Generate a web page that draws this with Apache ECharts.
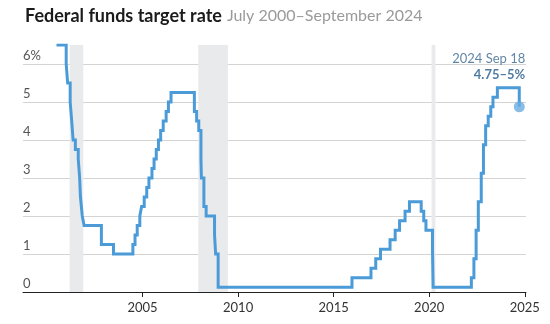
<!DOCTYPE html>
<html>
<head>
<meta charset="utf-8">
<script src="https://cdn.jsdelivr.net/npm/echarts@6/dist/echarts.min.js"></script>
<style>
html,body{margin:0;padding:0;background:#fff;}
#c{width:550px;height:324px;}
</style>
</head>
<body>
<div id="c"></div>
<script>
// Federal funds target rate (midpoint of target range), date of change
const rateDates = [
  '2000-07-01','2001-01-03','2001-01-31','2001-03-20','2001-04-18','2001-05-15','2001-06-27',
  '2001-08-21','2001-09-17','2001-10-02','2001-11-06','2001-12-11','2002-11-06','2003-06-25',
  '2004-06-30','2004-08-10','2004-09-21','2004-11-10','2004-12-14','2005-02-02','2005-03-22',
  '2005-05-03','2005-06-30','2005-08-09','2005-09-20','2005-11-01','2005-12-13','2006-01-31',
  '2006-03-28','2006-05-10','2006-06-29','2007-09-18','2007-10-31','2007-12-11','2008-01-22',
  '2008-01-30','2008-03-18','2008-04-30','2008-10-08','2008-10-29','2008-12-16','2015-12-17',
  '2016-12-15','2017-03-16','2017-06-15','2017-12-14','2018-03-22','2018-06-14','2018-09-27',
  '2018-12-20','2019-08-01','2019-09-19','2019-10-31','2020-03-04','2020-03-16','2022-03-17',
  '2022-05-05','2022-06-16','2022-07-28','2022-09-22','2022-11-03','2022-12-15','2023-02-02',
  '2023-03-23','2023-05-04','2023-07-27','2024-09-18'
];
const rateValues = [
  6.5,6.0,5.5,5.0,4.5,4.0,3.75,
  3.5,3.0,2.5,2.0,1.75,1.25,1.0,
  1.25,1.5,1.75,2.0,2.25,2.5,2.75,
  3.0,3.25,3.5,3.75,4.0,4.25,4.5,
  4.75,5.0,5.25,4.75,4.5,4.25,3.5,
  3.0,2.25,2.0,1.5,1.0,0.125,0.375,
  0.625,0.875,1.125,1.375,1.625,1.875,2.125,
  2.375,2.125,1.875,1.625,1.125,0.125,0.375,
  0.875,1.625,2.375,3.125,3.875,4.375,4.625,
  4.875,5.125,5.375,4.875
];
const recessionStarts = ['2001-03-10','2007-12-01','2020-02-15'];
const recessionEnds   = ['2001-11-25','2009-06-20','2020-04-30'];
const xTickYears = [2005, 2010, 2015, 2020, 2025];
const yTickValues = [0, 1, 2, 3, 4, 5, 6];
const titleText = 'Federal funds target rate';
const subtitleText = 'July 2000–September 2024';
const lastLabelDate = '2024 Sep 18';
const lastLabelValue = '4.75–5%';

const FONT = 'Lato, "Open Sans", sans-serif';
// convert 'YYYY-MM-DD' to fractional year for a numeric axis
function toYear(s) {
  const p = s.split('-').map(Number);
  const t = Date.UTC(p[0], p[1] - 1, p[2]);
  const a = Date.UTC(p[0], 0, 1), b = Date.UTC(p[0] + 1, 0, 1);
  return p[0] + (t - a) / (b - a);
}
const lineData = rateDates.map((d, i) => [toYear(d), rateValues[i]]);
const lastIdx = rateDates.length - 1;

const chart = echarts.init(document.getElementById('c'), null, {renderer: 'canvas'});
chart.setOption({
  animation: false,
  backgroundColor: '#ffffff',
  title: {
    left: 20, top: 2,
    text: '{a|' + titleText + '} {b|' + subtitleText + '}',
    textStyle: {
      fontWeight: 'normal',
      rich: {
        a: {fontFamily: FONT, fontSize: 18, fontWeight: 'bold', color: '#1b1b1b'},
        b: {fontFamily: FONT, fontSize: 16, fontWeight: 'normal', color: '#9a9a9a'}
      }
    }
  },
  grid: {left: 23, right: 24, top: 45, bottom: 32, containLabel: false},
  xAxis: {
    type: 'value',
    min: 1998.745,
    max: 2025.065,
    axisLine: {show: true, onZero: false, lineStyle: {color: '#222', width: 1}},
    axisTick: {show: true, customValues: xTickYears, length: 5, lineStyle: {color: '#222'}},
    axisLabel: {
      customValues: xTickYears,
      formatter: v => String(Math.round(v)),
      fontFamily: FONT, fontSize: 13, color: '#333', margin: 9
    },
    splitLine: {show: false}
  },
  yAxis: {
    type: 'value',
    min: 0, max: 6.5,
    axisLine: {show: false},
    axisTick: {show: false, customValues: yTickValues},
    axisLabel: {
      inside: true,
      customValues: yTickValues,
      formatter: v => (v === 6 ? '6%' : String(v)),
      fontFamily: FONT, fontSize: 13, color: '#555',
      align: 'left', verticalAlign: 'bottom', padding: [0, 0, 2, 0], margin: 0
    },
    splitLine: {show: true, lineStyle: {color: '#d4d4d4', width: 1}}
  },
  series: [
    {
      type: 'line', data: [], z: 1, silent: true,
      markArea: {
        silent: true,
        itemStyle: {color: '#e9eaec'},
        data: recessionStarts.map((s, i) => [{xAxis: toYear(s)}, {xAxis: toYear(recessionEnds[i])}])
      }
    },
    {
      type: 'line', data: lineData, step: 'end', z: 3,
      showSymbol: false, symbol: 'none',
      lineStyle: {color: '#4a9bd8', width: 3, join: 'miter'}
    },
    {
      type: 'scatter', z: 4,
      data: [lineData[lastIdx]],
      symbolSize: 11,
      itemStyle: {color: '#6aade2'},
      label: {
        show: true, position: 'top', align: 'right', offset: [6, -13],
        formatter: '{d|' + lastLabelDate + '}\n{v|' + lastLabelValue + '}',
        rich: {
          d: {fontFamily: FONT, fontSize: 13, color: '#3a6690', lineHeight: 16, align: 'right'},
          v: {fontFamily: FONT, fontSize: 13, fontWeight: 'bold', color: '#245a8c', lineHeight: 16, align: 'right'}
        }
      }
    }
  ]
});
</script>
</body>
</html>
